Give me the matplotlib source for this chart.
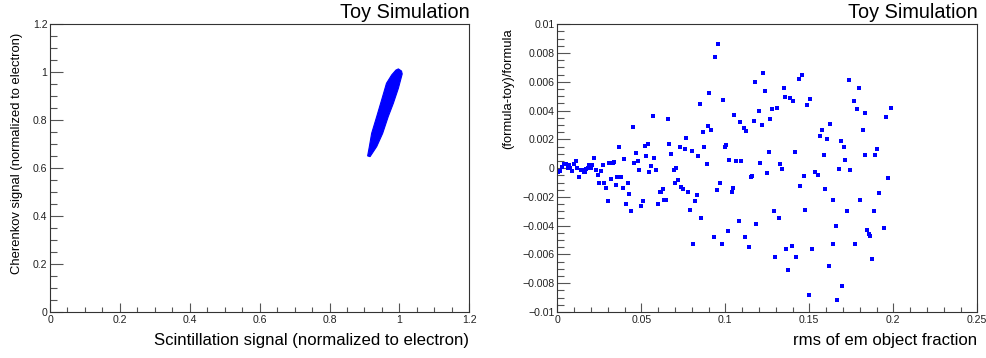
import matplotlib
matplotlib.use("Agg")
import matplotlib.pyplot as plt
from matplotlib.ticker import MultipleLocator

plt.rcParams['font.family'] = ['Liberation Sans', 'DejaVu Sans']

# ---------------- data ----------------
# Left panel: outline of the dense toy-simulation band (Scintillation vs Cherenkov)
band_x = [0.909, 0.914, 0.9205, 0.935, 0.949, 0.963, 0.978, 0.990, 0.997,
          1.006, 1.008, 0.997, 0.9825, 0.968, 0.952, 0.935, 0.9205, 0.916]
band_y = [0.651, 0.690, 0.745, 0.815, 0.884, 0.954, 0.989, 1.009, 1.014,
          1.005, 0.993, 0.933, 0.870, 0.815, 0.745, 0.690, 0.658, 0.648]

# Right panel: (formula-toy)/formula vs rms of em object fraction
rms_x = [0.0006, 0.0018, 0.0030, 0.0040, 0.0054, 0.0062, 0.0070, 0.0077, 0.0087, 0.0097,
         0.0110, 0.0120, 0.0127, 0.0139, 0.0150, 0.0157, 0.0165, 0.0173, 0.0180, 0.0190,
         0.0198, 0.0208, 0.0218, 0.0228, 0.0242, 0.0248, 0.0258, 0.0270, 0.0278, 0.0288,
         0.0304, 0.0307, 0.0320, 0.0331, 0.0340, 0.0347, 0.0357, 0.0367, 0.0380, 0.0391,
         0.0397, 0.0410, 0.0423, 0.0429, 0.0440, 0.0452, 0.0458, 0.0468, 0.0480, 0.0486,
         0.0500, 0.0512, 0.0520, 0.0530, 0.0542, 0.0548, 0.0560, 0.0567, 0.0575, 0.0590,
         0.0601, 0.0611, 0.0619, 0.0627, 0.0637, 0.0647, 0.0661, 0.0667, 0.0679, 0.0692,
         0.0698, 0.0708, 0.0716, 0.0728, 0.0738, 0.0746, 0.0758, 0.0768, 0.0778, 0.0788,
         0.0804, 0.0808, 0.0817, 0.0829, 0.0837, 0.0847, 0.0857, 0.0869, 0.0875, 0.0889,
         0.0899, 0.0905, 0.0915, 0.0933, 0.0938, 0.0948, 0.0958, 0.0966, 0.0982, 0.0988,
         0.0996, 0.1004, 0.1018, 0.1024, 0.1042, 0.1048, 0.1052, 0.1065, 0.1081, 0.1087,
         0.1095, 0.1111, 0.1115, 0.1125, 0.1141, 0.1151, 0.1161, 0.1171, 0.1175, 0.1185,
         0.1200, 0.1204, 0.1218, 0.1226, 0.1234, 0.1248, 0.1260, 0.1264, 0.1276, 0.1290,
         0.1294, 0.1308, 0.1319, 0.1327, 0.1335, 0.1349, 0.1353, 0.1363, 0.1375, 0.1383,
         0.1397, 0.1405, 0.1413, 0.1423, 0.1437, 0.1442, 0.1456, 0.1468, 0.1474, 0.1484,
         0.1500, 0.1502, 0.1518, 0.1536, 0.1554, 0.1563, 0.1575, 0.1587, 0.1591, 0.1605,
         0.1617, 0.1621, 0.1643, 0.1643, 0.1657, 0.1663, 0.1679, 0.1687, 0.1697, 0.1706,
         0.1714, 0.1724, 0.1734, 0.1740, 0.1768, 0.1774, 0.1784, 0.1796, 0.1804, 0.1819,
         0.1829, 0.1833, 0.1845, 0.1855, 0.1863, 0.1871, 0.1885, 0.1893, 0.1903, 0.1915,
         0.1944, 0.1956, 0.1966, 0.1986]
rel_diff = [-0.0003, -0.0002, 0.0001, 0.0003, 0.0003, 0.0000, 0.00025, 0.0000, -0.0002, 0.0003,
            0.0005, 0.0000, -0.0006, -0.0001, -0.00013, -0.00025, -0.0003, -0.00005, 0.0000, 0.0002,
            0.0000, 0.00025, 0.0007, -0.0001, -0.00045, -0.0010, -0.0002, 0.0002, -0.0010, -0.00135,
            -0.0023, 0.00035, -0.00075, 0.00035, 0.00045, -0.0012, -0.0006, 0.00147, -0.00064, -0.0014,
            0.00064, -0.0025, -0.0010, -0.0018, -0.0030, 0.00286, 0.00038, 0.00103, 0.0005, -0.0001,
            -0.0026, -0.0023, 0.00154, 0.00082, 0.00168, -0.00027, 0.00015, 0.00365, 0.00073, -0.00015,
            -0.0025, -0.00166, -0.00163, -0.00145, -0.0022, -0.0022, 0.0034, 0.00166, 0.0010, -0.00015,
            -0.0010, 0.0000, -0.00085, 0.00145, -0.0013, -0.00145, 0.00135, 0.0021, -0.00168, -0.0029,
            0.0012, -0.0053, -0.0023, -0.0019, 0.00087, 0.00446, -0.0035, 0.0025, 0.00147, 0.0003,
            0.0029, 0.00523, 0.00265, -0.0048, 0.0077, -0.0015, 0.0086, -0.0010, -0.0053, 0.00474,
            0.00145, 0.0016, -0.0044, 0.00054, -0.00163, -0.00136, 0.0037, 0.00048, -0.0037, 0.0032,
            0.00048, 0.0028, -0.0048, 0.0026, -0.0055, -0.0006, -0.00055, 0.0033, 0.0060, -0.0039,
            0.0040, 0.00038, 0.0030, 0.00664, 0.00534, -0.00036, 0.0011, 0.0034, 0.0041, -0.0030,
            -0.0062, 0.0042, -0.0035, 0.0003, -0.00005, 0.00555, 0.00495, -0.0056, -0.0071, 0.00486,
            -0.0054, 0.00467, 0.0011, -0.0062, 0.0062, -0.00127, 0.00645, -0.00055, -0.0029, 0.00437,
            -0.0088, 0.0048, -0.0056, -0.00025, -0.00047, 0.00224, 0.00263, 0.0009, -0.00145, 0.0020,
            -0.0068, 0.0031, -0.00224, -0.0053, -0.0040, -0.0092, -0.00008, 0.0019, -0.0082, 0.00147,
            0.00054, -0.0030, 0.0061, -0.00015, 0.00464, -0.0053, 0.0041, 0.0056, -0.0022, 0.00268,
            0.0009, 0.0038, -0.0043, -0.0046, -0.0047, -0.0063, -0.0030, 0.0009, 0.00133, -0.0017,
            -0.00415, 0.00356, -0.0007, 0.00416]

left_xticks = [0, 0.2, 0.4, 0.6, 0.8, 1.0, 1.2]
left_xticklabels = ["0", "0.2", "0.4", "0.6", "0.8", "1", "1.2"]
left_yticks = [0, 0.2, 0.4, 0.6, 0.8, 1.0, 1.2]
left_yticklabels = ["0", "0.2", "0.4", "0.6", "0.8", "1", "1.2"]
right_xticks = [0, 0.05, 0.1, 0.15, 0.2, 0.25]
right_xticklabels = ["0", "0.05", "0.1", "0.15", "0.2", "0.25"]
right_yticks = [-0.01, -0.008, -0.006, -0.004, -0.002, 0, 0.002, 0.004, 0.006, 0.008, 0.01]
right_yticklabels = ["\u22120.01", "\u22120.008", "\u22120.006", "\u22120.004", "\u22120.002", "0",
                     "0.002", "0.004", "0.006", "0.008", "0.01"]

# ---------------- figure ----------------
W, H = 986, 358
fig = plt.figure(figsize=(W / 100, H / 100), dpi=100)
fig.patch.set_facecolor('white')

def ax_rect(x0, x1, ytop, ybot):
    return [x0 / W, 1 - ybot / H, (x1 - x0) / W, (ybot - ytop) / H]

axL = fig.add_axes(ax_rect(50, 469.3, 24.3, 312))
axR = fig.add_axes(ax_rect(557.3, 977.3, 24.3, 312))

frame_col = '#333333'
tick_col = '#555555'
blue = '#0000ff'

def style(ax):
    for s in ax.spines.values():
        s.set_color(frame_col)
        s.set_linewidth(0.8)
    ax.tick_params(which='both', direction='in', top=False, right=False,
                   colors=tick_col, width=0.8, labelcolor='#222222', labelsize=7.6)
    ax.tick_params(axis='y', which='major', length=9.1, pad=1.8)
    ax.tick_params(axis='y', which='minor', length=4.8)
    ax.tick_params(axis='x', which='major', length=6.7, pad=2.5)
    ax.tick_params(axis='x', which='minor', length=3.4)

def place_ylabel(ax, text, xfrac, yfrac):
    ax.set_ylabel(text, fontsize=9.4)
    lab = ax.yaxis.label
    lab.set_rotation_mode('anchor')
    lab.set_horizontalalignment('right')
    lab.set_verticalalignment('center')
    ax.yaxis.set_label_coords(xfrac, yfrac)

# Left panel
style(axL)
axL.fill(band_x, band_y, color=blue, lw=0.8, ec=blue)
axL.set_xlim(0, 1.2)
axL.set_ylim(0, 1.2)
axL.set_xticks(left_xticks)
axL.set_xticklabels(left_xticklabels)
axL.set_yticks(left_yticks)
axL.set_yticklabels(left_yticklabels)
axL.xaxis.set_minor_locator(MultipleLocator(0.05))
axL.yaxis.set_minor_locator(MultipleLocator(0.05))
axL.set_xlabel("Scintillation signal (normalized to electron)", fontsize=12.1,
               ha='right', va='center')
axL.xaxis.set_label_coords(1.0, -(340 - 312) / 287.7)
place_ylabel(axL, "Cherenkov signal (normalized to electron)",
             (17 - 50) / 419.3, 1 - (32.3 - 24.3) / 287.7)
axL.text(1.0, 1 + 12 / 287.7, "Toy Simulation", transform=axL.transAxes,
         ha='right', va='center', fontsize=14.3, color='black')

# Right panel
style(axR)
axR.plot(rms_x, rel_diff, ls='none', marker='s', ms=2.2, mew=0, color=blue)
axR.set_xlim(0, 0.25)
axR.set_ylim(-0.01, 0.01)
axR.set_xticks(right_xticks)
axR.set_xticklabels(right_xticklabels)
axR.set_yticks(right_yticks)
axR.set_yticklabels(right_yticklabels)
axR.xaxis.set_minor_locator(MultipleLocator(0.01))
axR.yaxis.set_minor_locator(MultipleLocator(0.0005))
axR.set_xlabel("rms of em object fraction", fontsize=12.1, ha='right', va='center')
axR.xaxis.set_label_coords(1.0, -(340 - 312) / 287.7)
place_ylabel(axR, "(formula-toy)/formula",
             (508 - 557.3) / 420, 1 - (28.3 - 24.3) / 287.7)
axR.text(1.0, 1 + 12 / 287.7, "Toy Simulation", transform=axR.transAxes,
         ha='right', va='center', fontsize=14.3, color='black')

fig.savefig("out.png", dpi=100)
